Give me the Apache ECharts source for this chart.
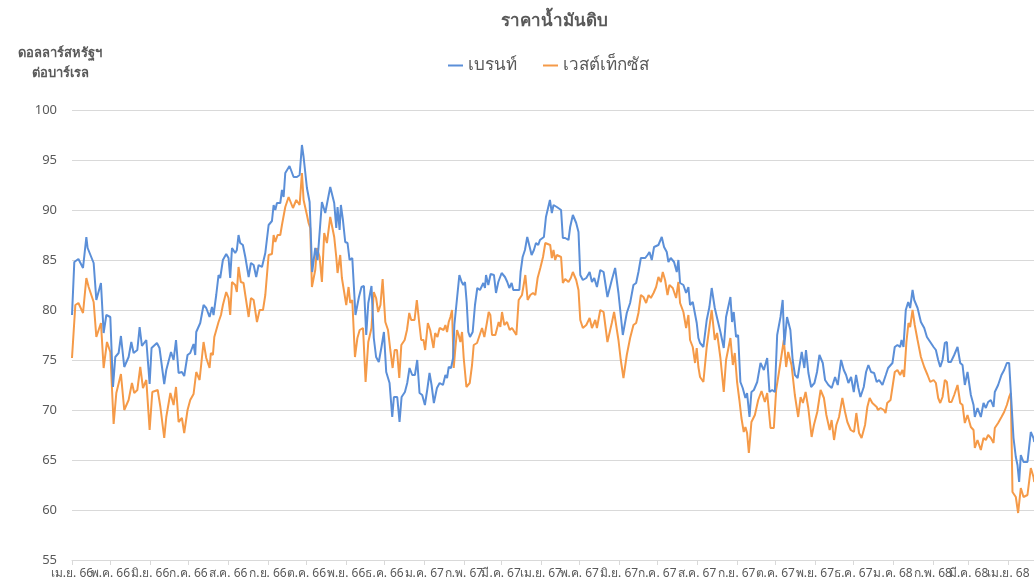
<!DOCTYPE html>
<html>
<head>
<meta charset="utf-8">
<script src="https://cdn.jsdelivr.net/npm/echarts@6/dist/echarts.min.js"></script>
<style>
html,body{margin:0;padding:0;background:#fff;}
#chart{width:1034px;height:585px;}
</style>
</head>
<body>
<div id="chart"></div>
<script>
// Days counted from 1 April 2023 (Thai BE 2566)
const startDate = [2023, 3, 1];
const axisMaxDay = 751;
const thaiMonths = ['ม.ค.','ก.พ.','มี.ค.','เม.ย.','พ.ค.','มิ.ย.','ก.ค.','ส.ค.','ก.ย.','ต.ค.','พ.ย.','ธ.ค.'];
const yTicks = [55, 60, 65, 70, 75, 80, 85, 90, 95, 100];
const seriesNames = ['เบรนท์', 'เวสต์เท็กซัส'];
const titleText = 'ราคาน้ำมันดิบ';
const unitText = 'ดอลลาร์สหรัฐฯ\nต่อบาร์เรล';

const brentDay = [0,1.8,5,8.6,11.2,12.2,13.7,16.9,19,22.6,24.7,26.8,29.9,32,33.8,36.4,38.2,40.8,44.2,46.3,48.1,51,52.8,54.6,58,60.6,62.1,66.3,68.3,72,73.6,77.3,79.3,81.2,83.2,85.8,87.6,90.2,92.3,94.9,96.2,97,100.1,102.7,104.8,107.4,109.3,110.5,112.6,114.4,115.7,117.8,120.4,122.2,123.5,124.9,127.4,128.7,130,131.3,133.4,135.3,137.9,139.7,141.8,143.8,145.7,148.3,150.9,153.5,156.1,157.4,158.7,160,162.6,163.9,165.2,166.5,169.8,173,175.6,177.7,179.5,180.8,182.1,183.4,185.5,187.5,189.9,191.7,195.1,197.7,201.6,204.7,206.3,207.3,208.9,209.9,211.5,213.3,215.1,216.7,217.7,218.8,220.1,221.3,224,226,227.9,229.7,231.3,233.8,235.6,237.4,239.5,241.6,243.5,245.3,247.9,250,251.3,253.9,255.7,257.3,259.9,261.7,263.5,265.6,267.7,269.5,271.3,273.4,275.5,277.3,279.1,280.7,282.5,284.9,287,289.6,291.5,292.8,294.1,295.9,297.5,298.5,302.4,304.2,305.5,306.8,308.1,309.4,310.7,312.8,314.6,316.4,318.5,319.8,321.1,322.4,323.2,325,326.8,329.4,331,332.8,335.4,338,339.8,341.4,343.2,344.5,346.6,349.2,350.2,351.8,353.6,355.4,357.5,358.8,360.6,362.2,364,365.3,368.4,370,371,373.1,374.6,375.9,378.5,381.8,383.2,385,387.6,388.9,391,393.6,395.4,396.8,398.8,401.5,404.1,405.9,407.7,409.8,412.4,415,418,421.4,424,426.6,430,433.1,435.7,438.3,440.4,442.2,444.1,447.5,449.3,450.8,452.6,454.4,457.8,459.1,460.4,462.2,464.3,465.6,467.4,470,472.1,473.4,474.7,477.3,479.4,481.2,482.5,484.6,487.7,489,490.3,492.9,495.5,497.6,499.4,501.8,503.6,506.2,508.8,510.6,514,515.3,516.6,518.4,520,521.8,523.6,525.7,527,528.9,530.4,532.3,534.9,537.5,540.1,542.7,544.5,546.6,548.7,550.5,553.1,554.8,556.1,558.2,560.8,562.6,564.4,566.5,567.8,569.7,571.7,573,574.9,577,579.6,581.6,583.5,586.1,587.9,590.5,593.1,595.7,597.8,600.4,602.5,604.3,606.1,608.2,610.3,612.1,613.9,615.5,618.1,619.9,621.7,623.8,626.2,628.2,630.1,632.7,635.3,637.1,640.5,642.3,644.4,646.5,647.6,649.1,650.9,652.8,654.3,656.2,657.5,660.1,662.7,665.3,667.4,670,672.6,674.4,676.2,677.8,679.6,681.4,683,684,686.1,688.7,691.3,693.4,695.2,697,699.1,701.7,703.8,704.8,706.9,709.5,711.6,713.4,715.2,717.3,719.4,720.4,723,725.6,727.7,729.8,731.6,732.9,735,736.8,738.1,739.4,740.7,742.8,745.9,748.5,750.6,751.2];
const brentPrice = [79.5,84.8,85.1,84.2,87.3,86.2,86.3,84.7,81,82.7,77.7,79.5,79.3,72.3,75.3,75.7,77.4,74.3,75.3,76.8,75.7,76,78.3,76.4,77,72.6,76.2,76.7,76.2,72.6,74,75.8,75,77,73.7,73.8,73.4,75.5,75.7,76.6,75.5,77.8,78.7,80.5,80.2,79.3,80.3,79.5,81.5,83.5,83.2,85,85.6,85.2,83.2,86.2,85.7,86,87.5,86.7,86.5,85.3,83.3,84.7,84.5,83.3,84.5,84.3,85.7,88.5,88.9,90.5,90,90.7,90.7,92,91.3,93.7,94.4,93.3,93.3,93.5,96.5,95.3,95.2,92.2,90.8,83.8,86.2,85,90.8,89.7,92.3,90.7,88.2,90.3,88,90.5,89,86.8,86.7,85,85.2,85.2,85,79.5,81.3,82.3,82.4,77.5,80.7,82.4,77.2,75.3,74.8,76.3,77.8,73.8,72.7,69.3,71.3,71.3,68.8,71.3,71.8,72.7,74.2,73.5,73.5,75,71.7,71.5,70.5,72,73.7,72.5,70.7,72.2,72.7,72.5,73.5,73.2,74.3,74.2,75.2,78.5,83.5,82.8,82.5,82.8,80.8,77.8,77.3,77.8,80.5,82.2,82,81.8,82.7,82.2,83.5,82.5,83.6,83.5,81.7,82.8,83.7,83.3,82.8,82.2,82.7,82,82,82,83.8,85.3,86,87.3,86.2,85.5,86,86.7,86.5,87,87.3,89.3,89.2,91,89.7,90.5,90.3,90,87.2,87.2,87,88.3,89.5,88.7,87.8,83.5,83,83.2,83.8,82.8,83.2,82.3,84,83.8,81.3,83,84.2,81.7,77.5,79.7,80.7,82.5,82.7,83.8,85.2,85.2,85.5,85.8,85,86.3,86.5,86.7,87.3,86.3,85.8,84.8,85.2,84.8,83.8,85,82.7,82.5,81.7,82.3,80.5,80.8,78.7,77.2,76.7,76.3,79,80.3,82.2,80.2,79.2,77.8,76.2,79.3,81.3,78.8,79.8,77.3,77.5,72.8,72.2,71.2,71.7,69.3,71.8,72,72.8,74.7,74,75.2,71.8,72,71.8,77.5,79.3,81,76.5,79.3,78,75,73.5,73.2,74.3,75.8,74.2,76,73.7,72.3,72.7,73.8,75.5,74.7,73,72.5,72.2,73.3,72.5,75,74,73.5,72.7,73.3,71.8,73.5,72.2,71.3,72.3,73.8,74.5,73.8,73.7,72.8,73,72.5,73.5,74.2,74.7,76.3,76.5,76.3,77,76.3,80,80.8,80.2,82,81,80.2,78.8,78.2,77.3,76.8,76.3,76,75,74.3,75,76.7,76.8,74.8,74.8,75.5,76.3,74.7,74.5,72.5,73.8,71.5,70.5,69.3,70.2,69.3,70.7,70.2,70.8,71,70.3,71.8,72.5,73.5,74,74.7,74.7,74.8,67.2,65.3,64.5,62.8,65.5,64.8,64.8,67.8,67.2,66.8];

const wtiDay = [0,2.6,5,8.6,11.2,13,16.9,19,22.6,24.7,27.3,29.9,32.5,34.6,38.2,40.8,44.2,46.8,48.6,51,53.3,55.4,58,60.6,62.7,66.9,69,72,73.6,76.8,79.3,81.2,83.2,85.8,87.6,90.2,92.3,94.9,96.2,97,99.6,102.7,104.8,107.4,108.4,110,111.1,114.4,116.3,117.8,120.4,122.2,123.5,124.9,127.4,128.7,130,131.8,133.9,135.3,137.9,139.7,141.8,144.4,146.5,149.1,150.9,153.5,156.1,157.4,158.7,160.5,162.6,163.9,165.2,166.5,169.1,172.5,175.1,177.7,179.5,180.8,183.4,184.7,186,187.3,189.9,191.2,193.3,195.1,196.9,199,201.6,204.7,206.3,207.3,209.4,210.7,214.1,215.9,217.2,218.8,220.9,222.8,224.6,227.2,229.2,231.3,233.8,235.6,237.4,239,240.8,242.5,244.6,246.7,248.5,250.3,251.9,253.7,255.5,257.1,259.7,261.5,263.3,264.8,267.4,269.2,271,272.6,274.4,275.7,277.8,279.6,282.2,283.5,285.3,287,290.1,291.5,292.8,294.1,295.4,296.7,298,299.3,300.6,301.9,303.2,304.5,305.8,307.9,310.5,312.3,313.6,316.2,317.5,318.8,320.1,321.9,324,325.3,326.6,327.9,330.5,333.1,334.4,335.7,337.5,339.6,341.7,343.5,346.9,348.7,351.3,353.9,355.7,357.8,359.9,361.7,363.5,365.6,367.7,369.5,370.8,373.3,374.6,375.9,377.2,378.5,381.8,383.2,385,387.6,389.4,391,393.6,395.4,396.8,398.8,401.5,404.1,405.9,408.5,409.8,412.4,415,418,421.4,423.2,426.6,428.4,430.5,433.1,435.7,438.3,440.4,442.2,444.1,446.1,448.2,450.1,451.9,454,456,457.8,459.7,461.2,463,464.9,466.4,469,471.6,473.4,474.7,477.3,479.4,481.2,482.5,484.6,486.4,487.7,489,490.3,492.9,495.5,497.6,499.4,501.8,503.6,506.2,508.8,510.6,514,515.9,517.4,519.2,521,522.6,524.4,525.7,527,528.4,530.4,533.1,535.7,538.3,540.9,542.7,545.3,547.9,549.7,551.8,555.7,557.5,559.1,561.7,564.3,566.9,568.8,570.6,572.7,574.8,577.4,579.2,581.8,584.4,587,588.9,591.5,593,594.9,596.7,598.8,601.4,603.5,605.3,607.9,610.5,612.3,614.4,616.4,619.1,620.9,622.7,624.8,626.2,628.2,629.2,631.2,633.8,635.1,636.4,639,642.3,644.4,646.5,648.3,649.6,651.4,653,654.3,656.2,657.9,660.1,662.7,665.3,667.9,670,672.6,674.4,676.2,677.8,679.6,681.4,683,684.8,686.6,688.7,691.3,693.4,695.2,697,699.1,701.7,703.8,704.8,706.9,709.5,711.6,713.4,715.2,717.3,719.4,720.4,723,725.6,727.7,729.8,731.6,732.9,734.2,736.8,738.6,740.7,742.8,745.9,748.5,750.6,751.2];
const wtiPrice = [75.2,80.5,80.7,79.7,83.2,82.3,80.8,77.3,78.7,74.2,76.8,75.8,68.6,71.7,73.6,70,71,72.7,71.7,72,74.3,72.2,73,68,71.8,72,70.3,67.2,69.3,71.7,70.5,72.3,68.8,69.2,67.7,70,71,71.6,71.8,73.8,73,76.8,75.2,74.2,75.7,75.5,77.3,78.8,79.5,80.5,81.8,81.2,79.5,82.8,82.5,81.8,84.3,82.8,82.7,81.5,79.3,81.2,81,78.8,80,80,81.5,85.5,85.6,87.5,86.8,87.5,87.5,88.5,88.5,90.3,91.3,90.2,91,90.5,93.7,91,89.5,88.7,88.2,82.3,84,86.2,85.3,82.8,87.7,86.7,89.3,87.3,85.3,83.7,85.5,83.2,80.5,82.3,80.7,81,75.3,77.2,78,78.2,72.8,76.8,78.2,81.8,81.2,79.8,80.5,83.1,78.8,78,76,74.2,76,76,73.2,76.5,77,78,79.7,79,79,81,78.8,77,77,76,78.7,78,76.2,77.7,77.3,78.2,78,78.5,77.8,78.8,79.3,80,74.2,76.2,78,77.5,76.8,77.8,75.2,72.3,72.7,74.5,76.5,76.7,76.8,77.7,78.2,77.3,78.8,79.8,79.5,77.5,77.5,78.8,78.3,79.8,78.5,78.8,78,78.2,77.5,81,81.5,83.5,81,81.5,81.7,81.5,83.2,84.2,85.3,86.7,86.8,86.5,85.2,86,85,85.5,85.3,82.7,83.1,82.8,83.2,83.8,83,82,79,78.2,78.5,79.2,78.2,79,78.2,80,79.8,76.8,78.7,79.8,77,75,73.2,75.5,77.2,78.5,78.7,79.7,81.5,81.3,80.7,81.5,81.2,81.7,82.3,83.3,82.8,83.8,83,81.5,82.5,82.2,81.2,82.8,80.7,79.8,78.2,79.5,77,76.3,74.7,76.2,74.3,73.3,72.8,76.3,78.3,80,77,77.7,75.2,71.8,75,77.2,74.5,75.7,72.8,71,69.2,67.8,68.3,67.7,65.7,68.8,69.5,71,71.9,70.8,71.7,68.2,68.2,72,73.7,77,74.3,75.8,74.5,71.5,69.3,71.3,70.7,71.8,70.2,67.3,68.5,69.8,72,71.2,69.5,68,69,67,68.5,69.3,71.2,69.8,68.8,68,67.8,69.7,67.7,67.2,68.5,70.3,71.2,70.7,70.7,70.3,70,70.2,70,69.7,70.7,71,73.8,74,73.5,74,73.3,76.8,78.7,78.3,80,78.5,77,75.3,74.3,73.5,72.8,73,72.7,71.2,70.7,71.3,73,72.8,70.8,70.8,71.5,72.5,70.7,70.5,68.7,69.5,68.3,68,66.2,67,66,67.2,67,67.5,67.2,66.7,68.2,68.7,69.3,69.8,70.5,71.3,71.7,61.8,61.3,59.7,62.2,61.3,61.5,64.2,63.3,62.8];

const DAY = 86400000;
const t0 = Date.UTC(startDate[0], startDate[1], startDate[2]);
const toPairs = (days, vals) => days.map((d, i) => [t0 + d * DAY, vals[i]]);

const textColor = '#595959';
const fontFam = '"Noto Sans", "DejaVu Sans", sans-serif';

const chart = echarts.init(document.getElementById('chart'), null, {renderer: 'canvas'});
chart.setOption({
  useUTC: true,
  animation: false,
  backgroundColor: '#ffffff',
  textStyle: {fontFamily: fontFam},
  title: {
    text: titleText,
    left: 549,
    textAlign: 'center',
    top: 8,
    textStyle: {color: textColor, fontSize: 17, fontWeight: 'bold', fontFamily: fontFam}
  },
  legend: {
    top: 52,
    left: 443,
    itemGap: 26,
    itemWidth: 15,
    itemHeight: 2,
    icon: 'rect',
    textStyle: {color: textColor, fontSize: 17, fontFamily: fontFam},
    data: seriesNames
  },
  graphic: [{
    type: 'text',
    x: 60,
    y: 43,
    style: {
      text: unitText,
      fill: textColor,
      font: 'bold 13px ' + fontFam,
      align: 'center',
      verticalAlign: 'top',
      lineHeight: 20
    }
  }],
  grid: {left: 72, right: 0, top: 110, bottom: 25, containLabel: false},
  xAxis: {
    type: 'time',
    min: t0,
    max: t0 + axisMaxDay * DAY,
    minInterval: 28 * DAY,
    maxInterval: 31 * DAY,
    splitNumber: 25,
    axisLine: {show: true, lineStyle: {color: '#d9d9d9', width: 1}},
    axisTick: {show: true, length: 5, lineStyle: {color: '#d9d9d9'}},
    splitLine: {show: false},
    axisLabel: {
      color: textColor,
      fontSize: 12,
      margin: 8,
      hideOverlap: false,
      showMinLabel: true,
      formatter: function (v) {
        const dt = new Date(v);
        return thaiMonths[dt.getUTCMonth()] + ' ' + ((dt.getUTCFullYear() + 543) % 100);
      }
    }
  },
  yAxis: {
    type: 'value',
    min: yTicks[0],
    max: yTicks[yTicks.length - 1],
    interval: yTicks[1] - yTicks[0],
    axisLine: {show: false},
    axisTick: {show: false},
    splitLine: {lineStyle: {color: '#d9d9d9', width: 1}},
    axisLabel: {color: textColor, fontSize: 13, margin: 15}
  },
  series: [
    {
      name: seriesNames[0],
      type: 'line',
      data: toPairs(brentDay, brentPrice),
      showSymbol: false,
      symbol: 'none',
      lineStyle: {color: '#5b8fd8', width: 2},
      itemStyle: {color: '#5b8fd8'},
      z: 3
    },
    {
      name: seriesNames[1],
      type: 'line',
      data: toPairs(wtiDay, wtiPrice),
      showSymbol: false,
      symbol: 'none',
      lineStyle: {color: '#f59a48', width: 2},
      itemStyle: {color: '#f59a48'},
      z: 2
    }
  ]
});
</script>
</body>
</html>
